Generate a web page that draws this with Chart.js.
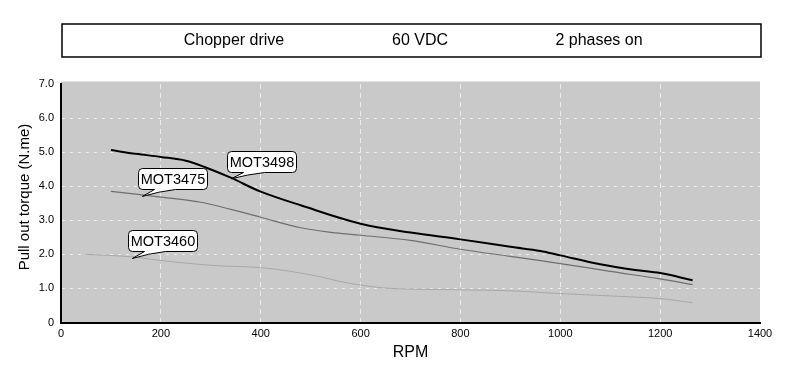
<!DOCTYPE html>
<html>
<head>
<meta charset="utf-8">
<script src="https://cdn.jsdelivr.net/npm/chart.js@4.4.1/dist/chart.umd.min.js"></script>
<style>
  html, body { margin: 0; padding: 0; background: #ffffff; }
  #wrap { width: 800px; height: 365px; }
</style>
</head>
<body>
<div id="wrap"><canvas id="c" width="800" height="365"></canvas></div>
<script>
// ---- data ----
const headerTexts = ['Chopper drive', '60 VDC', '2 phases on'];
const xTitle = 'RPM';
const yTitle = 'Pull out torque (N.me)';
const seriesNames = ['MOT3498', 'MOT3475', 'MOT3460'];

const rpm3498 =    [100, 150, 200, 250, 290, 340, 400, 480, 600, 700, 800, 900, 960, 1000, 1080, 1150, 1200, 1265];
const torque3498 = [5.06, 4.95, 4.86, 4.75, 4.55, 4.25, 3.84, 3.44, 2.90, 2.64, 2.44, 2.22, 2.10, 1.97, 1.71, 1.54, 1.45, 1.24];

const rpm3475 =    [100, 200, 280, 340, 400, 480, 550, 600, 700, 800, 900, 1000, 1100, 1200, 1265];
const torque3475 = [3.85, 3.68, 3.53, 3.32, 3.09, 2.78, 2.63, 2.56, 2.41, 2.15, 1.94, 1.73, 1.50, 1.28, 1.11];

const rpm3460 =    [50, 140, 200, 300, 400, 460, 520, 560, 600, 660, 800, 900, 1000, 1100, 1200, 1265];
const torque3460 = [2.00, 1.93, 1.82, 1.68, 1.61, 1.50, 1.34, 1.20, 1.10, 1.00, 0.96, 0.93, 0.85, 0.78, 0.70, 0.58];

// callout anchors (data coordinates where each label's pointer touches)
const calloutRpm =    [341, 163, 143];
const calloutTorque = [4.22, 3.70, 1.88];

const xMin = 0, xMax = 1400, xStep = 200;
const yMin = 0, yMax = 7, yStep = 1;

// ---- styles ----
const FONT = "'Liberation Sans', Arial, sans-serif";
const lineColors = ['#000000', '#6e6e6e', '#a8a8a8'];
const lineWidths = [2, 1.2, 1];

function pts(xs, ys) { return xs.map((x, i) => ({ x: x, y: ys[i] })); }

const plotBg = {
  id: 'plotBg',
  beforeDraw(chart) {
    const { ctx, chartArea: a } = chart;
    ctx.save();
    ctx.fillStyle = '#c9c9c9';
    ctx.fillRect(a.left, a.top - 2.5, a.right - a.left, a.bottom - a.top + 2.5);
    ctx.restore();
  }
};

const decorations = {
  id: 'decorations',
  afterDraw(chart) {
    const { ctx, chartArea: a } = chart;
    const xs = chart.scales.x, ys = chart.scales.y;
    ctx.save();
    // header box
    ctx.strokeStyle = '#000';
    ctx.lineWidth = 1.5;
    ctx.strokeRect(62, 24, 699, 33);
    ctx.fillStyle = '#000';
    ctx.font = '16px ' + FONT;
    ctx.textAlign = 'center';
    ctx.textBaseline = 'middle';
    const hx = [234, 420, 599];
    headerTexts.forEach((t, i) => ctx.fillText(t, hx[i], 41));

    // axis titles
    ctx.font = '16px ' + FONT;
    ctx.fillText(xTitle, (a.left + a.right) / 2, 353);
    ctx.save();
    ctx.translate(25, 197);
    ctx.rotate(-Math.PI / 2);
    ctx.font = '15px ' + FONT;
    ctx.fillText(yTitle, 0, 0);
    ctx.restore();

    // callouts
    ctx.font = '14.5px ' + FONT;
    seriesNames.forEach((name, i) => {
      const tx = xs.getPixelForValue(calloutRpm[i]);
      const ty = ys.getPixelForValue(calloutTorque[i]);
      const w = Math.round(ctx.measureText(name).width + 5);
      const h = 21;
      const left = Math.round(tx - 4) + 0.5;
      const bottom = Math.round(ty - 7) + 0.5;
      const top = bottom - h;
      const r = 4;
      ctx.beginPath();
      ctx.moveTo(left + r, top);
      ctx.lineTo(left + w - r, top);
      ctx.arcTo(left + w, top, left + w, top + r, r);
      ctx.lineTo(left + w, bottom - r);
      ctx.arcTo(left + w, bottom, left + w - r, bottom, r);
      ctx.lineTo(left + 37, bottom);
      ctx.quadraticCurveTo(left + 20, bottom + 2, tx, ty);
      ctx.lineTo(left + 16, bottom);
      ctx.lineTo(left + r, bottom);
      ctx.arcTo(left, bottom, left, bottom - r, r);
      ctx.lineTo(left, top + r);
      ctx.arcTo(left, top, left + r, top, r);
      ctx.closePath();
      ctx.fillStyle = '#fff';
      ctx.fill();
      ctx.strokeStyle = '#000';
      ctx.lineWidth = 1;
      ctx.stroke();
      ctx.fillStyle = '#000';
      ctx.textAlign = 'center';
      ctx.textBaseline = 'middle';
      ctx.fillText(name, left + w / 2, top + h / 2 + 1);
    });
    ctx.restore();
  }
};

const datasets = [
  { label: seriesNames[0], data: pts(rpm3498, torque3498) },
  { label: seriesNames[1], data: pts(rpm3475, torque3475) },
  { label: seriesNames[2], data: pts(rpm3460, torque3460) }
].map((d, i) => Object.assign(d, {
  borderColor: lineColors[i],
  borderWidth: lineWidths[i],
  pointRadius: 0,
  fill: false,
  tension: 0.35
}));
datasets.reverse();

new Chart(document.getElementById('c'), {
  type: 'line',
  data: { datasets: datasets },
  plugins: [plotBg, decorations],
  options: {
    responsive: false,
    animation: false,
    devicePixelRatio: 1,
    layout: { padding: { left: 0, right: 40, top: 84, bottom: 0 } },
    plugins: { legend: { display: false }, tooltip: { enabled: false }, title: { display: false } },
    scales: {
      x: {
        type: 'linear',
        min: xMin, max: xMax,
        afterFit(s) { s.height = 42.5; },
        ticks: {
          stepSize: xStep,
          color: '#000',
          font: { family: FONT, size: 11 },
          padding: 5,
          maxRotation: 0,
          callback: v => String(v)
        },
        grid: {
          drawTicks: false,
          lineWidth: 1,
          color: c => (c.tick && (c.tick.value === xMax || c.tick.value === xMin)) ? 'rgba(0,0,0,0)' : '#ececec'
        },
        border: { display: true, color: '#000', width: 2, dash: [5, 4] }
      },
      y: {
        type: 'linear',
        min: yMin, max: yMax,
        afterFit(s) { s.width = 61; },
        ticks: {
          stepSize: yStep,
          color: '#000',
          font: { family: FONT, size: 11 },
          padding: 7,
          callback: v => v === 0 ? '0' : v.toFixed(1)
        },
        grid: {
          drawTicks: false,
          lineWidth: 1,
          color: c => (c.tick && (c.tick.value === yMax || c.tick.value === yMin)) ? 'rgba(0,0,0,0)' : '#ececec'
        },
        border: { display: true, color: '#000', width: 2, dash: [3, 5] }
      }
    }
  }
});
</script>
</body>
</html>
